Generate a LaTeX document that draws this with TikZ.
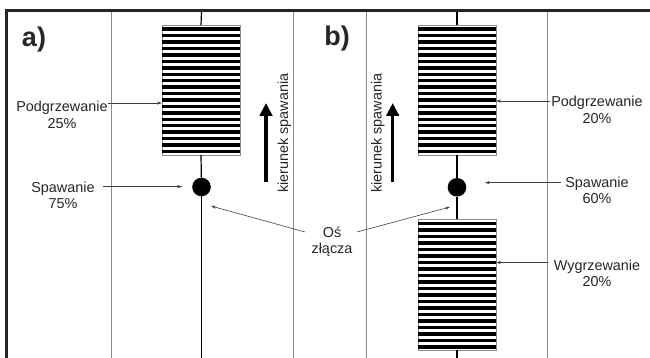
\documentclass[tikz,border=0pt]{standalone}
\usepackage{fontspec}
\setmainfont{Liberation Sans}
\usetikzlibrary{calc,arrows.meta}
\begin{document}
\begin{tikzpicture}[x=1pt,y=-1pt,
  lbl/.style={font=\fontsize{14.4pt}{17pt}\selectfont, anchor=base, inner sep=0pt, text=black!85},
  tag/.style={font=\fontsize{27pt}{30pt}\selectfont\bfseries, inner sep=0pt, text=black!85},
  heatbox/.style={draw=black!45, line width=0.8pt, fill=white, minimum width=78pt, minimum height=130pt, inner sep=0pt, outer sep=0pt},
  weld/.style={circle, fill=black, minimum size=18.6pt, inner sep=0pt, outer sep=0pt},
  guide/.style={draw=black!45, line width=0.8pt},
  axisline/.style={draw=black, line width=1.2pt},
  frameline/.style={draw=black!85, line width=2.6pt},
  thinarrow/.style={draw=black!75, line width=0.6pt, -{Stealth[length=5pt,width=3.2pt]}},
  bigarrow/.style={draw=black, line width=3.4pt, -{Triangle[length=13pt,width=12.5pt]}},
  stripe/.style={fill=black}
]
\useasboundingbox (0,0) rectangle (650,358);
\fill[white] (0,0) rectangle (650,358);

% guide lines
\coordinate (g1t) at (111,11); \coordinate (g1b) at (111,358);
\coordinate (g2t) at (293,11); \coordinate (g2b) at (293,358);
\coordinate (g3t) at (366,11); \coordinate (g3b) at (366,358);
\coordinate (g4t) at (547,11); \coordinate (g4b) at (547,358);
\draw[guide] (g1t) -- (g1b);
\draw[guide] (g2t) -- (g2b);
\draw[guide] (g3t) -- (g3b);
\draw[guide] (g4t) -- (g4b);

% frame
\coordinate (fl) at (5,10.5); \coordinate (fr) at (650,10.5); \coordinate (fb) at (6.2,358);
\draw[frameline] (fr) -- (fl);
\draw[frameline] (6.2,9.2) -- (fb);

% boxes and welds
\node[heatbox] (boxA) at (201,90) {};
\node[heatbox] (boxB) at (457,90) {};
\node[heatbox, minimum height=131pt] (boxC) at (457,284.5) {};
\node[weld] (dotA) at (201.5,187) {};
\node[weld] (dotB) at (457,187.3) {};

\foreach \k in {0,...,19}{
  \fill[stripe] ($(boxA.north west)+(0,2.5+\k*6.43)$) rectangle ($(boxA.north east)+(0,6+\k*6.43)$);
  \fill[stripe] ($(boxB.north west)+(0,2.5+\k*6.43)$) rectangle ($(boxB.north east)+(0,6+\k*6.43)$);
  \fill[stripe] ($(boxC.north west)+(0,2.5+\k*6.5)$) rectangle ($(boxC.north east)+(0,6+\k*6.5)$);
}

% joint axes
\coordinate (topA) at (201.5,12); \coordinate (botA) at (201.5,358);
\coordinate (topB) at (457,12); \coordinate (botB) at (457,358);
\draw[axisline] (topA) -- (boxA.north);
\draw[axisline] (boxA.south) -- (dotA);
\draw[axisline] (dotA) -- (botA);
\draw[axisline] (topB) -- (boxB.north);
\draw[axisline] (boxB.south) -- (dotB);
\draw[axisline] (dotB) -- (boxC.north);
\draw[axisline] (boxC.south) -- (botB);

% panel tags
\node[tag] (tagA) at (34,40) {a)};
\node[tag] (tagB) at (337,39) {b)};

% labels a)
\node[lbl] (podA1) at (62,112) {Podgrzewanie};
\node[lbl] (podA2) at (62,128.5) {25\%};
\coordinate (podAs) at (108,103);
\draw[thinarrow] (podAs) -- (podAs -| boxA.west);
\node[lbl] (spA1) at (63,192.3) {Spawanie};
\node[lbl] (spA2) at (63,208.3) {75\%};
\coordinate (spAs) at (103,186.7); \coordinate (spAe) at (182,186.7);
\draw[thinarrow] (spAs) -- (spAe);

% labels b)
\node[lbl] (podB1) at (597,107) {Podgrzewanie};
\node[lbl] (podB2) at (597,123.5) {20\%};
\coordinate (podBs) at (550,101);
\draw[thinarrow] (podBs) -- (podBs -| boxB.east);
\node[lbl] (spB1) at (597,187.7) {Spawanie};
\node[lbl] (spB2) at (597,204) {60\%};
\coordinate (spBs) at (561,182.7); \coordinate (spBe) at (485,182.7);
\draw[thinarrow] (spBs) -- (spBe);
\node[lbl] (wyB1) at (597,270.7) {Wygrzewanie};
\node[lbl] (wyB2) at (597,286.7) {20\%};
\coordinate (wyBs) at (548,262.5);
\draw[thinarrow] (wyBs) -- (wyBs -| boxC.east);

% joint axis label
\node[lbl] (os1) at (332,237.3) {Oś};
\node[lbl] (os2) at (332,253.3) {złącza};
\coordinate (osL) at (305,232); \coordinate (osLe) at (211,206);
\coordinate (osR) at (357,232); \coordinate (osRe) at (450,207);
\draw[thinarrow] (osL) -- (osLe);
\draw[thinarrow] (osR) -- (osRe);

% welding direction
\node[lbl, rotate=90] (kirA) at (288,133) {kierunek spawania};
\node[lbl, rotate=90] (kirB) at (381.7,133) {kierunek spawania};
\coordinate (kA0) at (266,182); \coordinate (kA1) at (266,103);
\coordinate (kB0) at (392.7,182); \coordinate (kB1) at (392.7,103);
\draw[bigarrow] (kA0) -- (kA1);
\draw[bigarrow] (kB0) -- (kB1);
\end{tikzpicture}
\end{document}
